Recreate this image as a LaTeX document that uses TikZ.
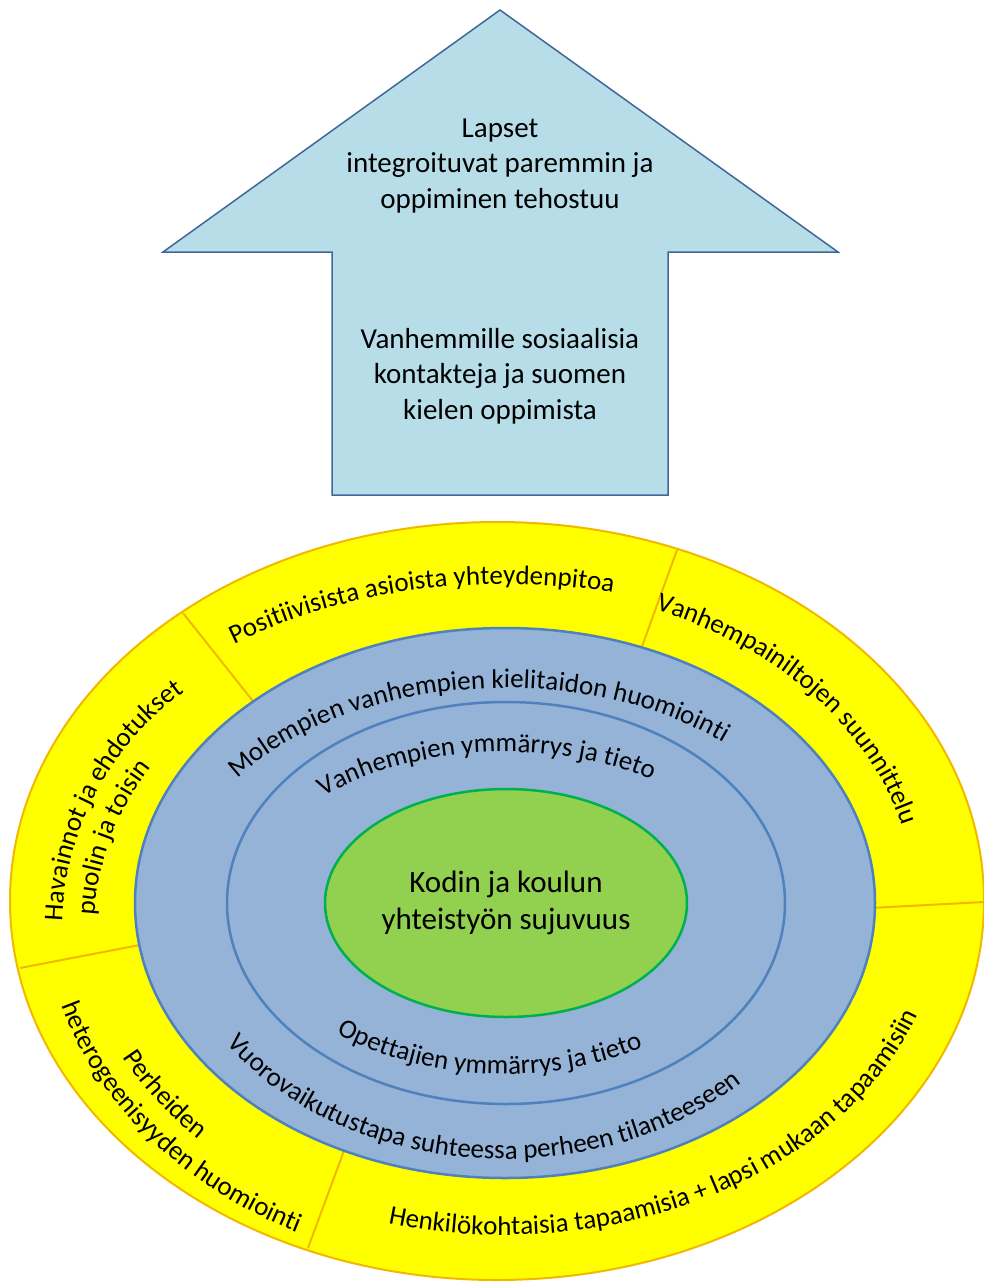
\documentclass[tikz,border=0pt]{standalone}
\usepackage{fontspec}
\setmainfont{Carlito}
\usetikzlibrary{decorations.text, shapes.geometric}
\definecolor{arrowfill}{HTML}{B7DEE8}
\definecolor{arrowline}{HTML}{41669A}
\definecolor{ringyellow}{HTML}{FFFF00}
\definecolor{ringorange}{HTML}{F2B800}
\definecolor{ringblue}{HTML}{95B3D7}
\definecolor{blueline}{HTML}{4F81BD}
\definecolor{coregreen}{HTML}{92D050}
\definecolor{greenline}{HTML}{00B050}
\newcommand*{\ringfont}{\fontsize{27}{32}\selectfont}

\begin{document}
\begin{tikzpicture}[x=1pt,y=-1pt,
      every node/.style={inner sep=0pt},
      bigtext/.style={align=center,font=\fontsize{29}{35.5}\selectfont},
      divider/.style={draw=ringorange,line width=2pt},
      ringtext/.style={decorate,decoration={text along path,text align=center,text={|\ringfont|#1}}}
      ]
      \useasboundingbox (0,0) rectangle (984,1286);
      % arrow
      \draw[fill=arrowfill,draw=arrowline,line width=1.5pt]
        (500,10) -- (838,252) -- (668,252) -- (668,495) -- (332,495) -- (332,252) -- (163,252) -- cycle;
      \node[bigtext] (children) at (500,166) {Lapset\\integroituvat paremmin ja\\oppiminen tehostuu};
      \node[bigtext] (parents) at (500,376) {Vanhemmille sosiaalisia\\kontakteja ja suomen\\kielen oppimista};
      % rings
      \draw[fill=ringyellow,draw=ringorange,line width=2pt] (497,901) ellipse [x radius=487,y radius=379];
      \draw[divider] (183,613) -- (256,705);
      \draw[divider] (677,550) -- (640,652);
      \draw[divider] (870,908) -- (984,902);
      \draw[divider] (20,968) -- (145,944);
      \draw[divider] (308,1248) -- (345,1148);
      \draw[fill=ringblue,draw=blueline,line width=2.5pt] (505,903) ellipse [x radius=370,y radius=275];
      \draw[draw=blueline,line width=2.5pt] (506,903) ellipse [x radius=279,y radius=201];
      \node[ellipse,fill=coregreen,draw=greenline,line width=2.5pt,minimum width=362pt,minimum height=228pt,
            align=center,font=\fontsize{31}{37}\selectfont] (core) at (506,903) {Kodin ja koulun\\yhteistyön sujuvuus};
      % texts along the rings
      \path[ringtext={Positiivisista asioista yhteydenpitoa}]
        (505,902) ++(-133:463 and 318) arc[start angle=-133,end angle=-70,x radius=463,y radius=318];
      \path[ringtext={Vanhempainiltojen suunnittelu}]
        (505,902) ++(-74:409 and 314) arc[start angle=-74,end angle=-7,x radius=409,y radius=314];
      \path[ringtext={Molempien vanhempien kielitaidon huomiointi}]
        (505,902) ++(-156:328 and 214) arc[start angle=-156,end angle=-38,x radius=328,y radius=214];
      \path[ringtext={Vanhempien ymmärrys ja tieto}]
        (505,902) ++(-145:255 and 150) arc[start angle=-145,end angle=-46,x radius=255,y radius=150];
      \path[ringtext={Opettajien ymmärrys ja tieto}]
        (505,902) ++(138:260 and 172) arc[start angle=138,end angle=50.7,x radius=260,y radius=172];
      \path[ringtext={Vuorovaikutustapa suhteessa perheen tilanteeseen}]
        (505,902) ++(159:333 and 257) arc[start angle=159,end angle=33,x radius=333,y radius=257];
      \path[ringtext={Henkilökohtaisia tapaamisia + lapsi mukaan tapaamisiin}]
        (505,902) ++(114:439 and 333) arc[start angle=114,end angle=9,x radius=439,y radius=333];
      \path[ringtext={Perheiden}]
        (505,902) ++(162:430 and 338) arc[start angle=162,end angle=127,x radius=430,y radius=338];
      \path[ringtext={heterogeenisyyden huomiointi}]
        (505,902) ++(173:462 and 370) arc[start angle=173,end angle=109,x radius=462,y radius=370];
      \path[ringtext={Havainnot ja ehdotukset}]
        (359,932) ++(176:297) arc[start angle=176,end angle=240,radius=297];
      \path[ringtext={puolin ja toisin}]
        (359,932) ++(177:265) arc[start angle=177,end angle=225,radius=265];
    \end{tikzpicture}
\end{document}
